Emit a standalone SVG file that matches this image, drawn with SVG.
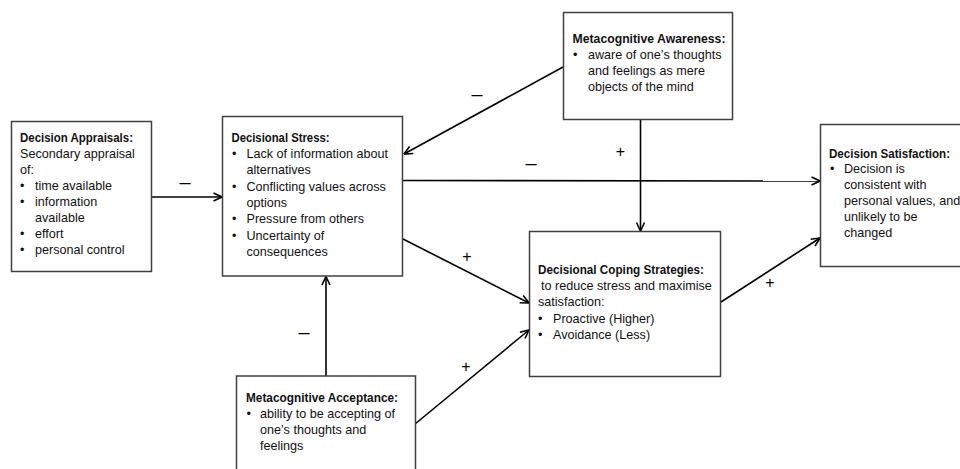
<svg xmlns="http://www.w3.org/2000/svg" width="960" height="469" viewBox="0 0 960 469">
<defs>
<marker id="arr" viewBox="0 0 10 10" refX="9.5" refY="5" markerWidth="10" markerHeight="10" markerUnits="userSpaceOnUse" orient="auto">
<path d="M1,1 L9.5,5 L1,9" fill="none" stroke="#000" stroke-width="1.6"/>
</marker>
</defs>
<style>
.box{fill:#fff;stroke:#404040;stroke-width:1.5}
text{font-family:"Liberation Sans",Arial,sans-serif;font-size:12.6px;fill:#111}
.t{font-weight:bold}
.lbl{font-size:16px;fill:#000}
.m{font-size:20px;fill:#000}
.c{stroke:#000;stroke-width:1.6;fill:none;marker-end:url(#arr)}
</style>
<rect width="960" height="469" fill="#fff"/>
<g id="connectors">
<line class="c" x1="152" y1="197" x2="222" y2="197"/>
<line class="c" x1="563" y1="67" x2="404" y2="154"/>
<line class="c" x1="403" y1="180.5" x2="820" y2="181"/>
<line class="c" x1="640.5" y1="120" x2="640.5" y2="231"/>
<line class="c" x1="403" y1="239" x2="529" y2="303"/>
<line class="c" x1="415" y1="424" x2="529" y2="330"/>
<line class="c" x1="326" y1="376" x2="326" y2="276.5"/>
<line class="c" x1="721" y1="302" x2="820" y2="238"/>
<text class="m" x="185" y="189" text-anchor="middle">–</text>
<text class="m" x="477" y="101" text-anchor="middle">–</text>
<text class="m" x="531" y="170" text-anchor="middle">–</text>
<text class="lbl" x="620.5" y="157" text-anchor="middle">+</text>
<text class="lbl" x="467" y="262" text-anchor="middle">+</text>
<text class="lbl" x="466" y="372" text-anchor="middle">+</text>
<text class="m" x="304" y="339" text-anchor="middle">–</text>
<text class="lbl" x="770" y="288" text-anchor="middle">+</text>
</g>
<g id="appraisals">
<rect class="box" x="11.5" y="121.5" width="140" height="150"/>
<text class="t" x="20" y="142" textLength="113" lengthAdjust="spacingAndGlyphs">Decision Appraisals:</text>
<text x="20" y="158">Secondary appraisal</text>
<text x="20" y="174">of:</text>
<text x="20" y="190">•</text><text x="35" y="190">time available</text>
<text x="20" y="206">•</text><text x="35" y="206">information</text>
<text x="35" y="222">available</text>
<text x="20" y="238">•</text><text x="35" y="238">effort</text>
<text x="20" y="254">•</text><text x="35" y="254">personal control</text>
</g>
<g id="stress">
<rect class="box" x="222.5" y="116.5" width="180" height="159.5"/>
<text class="t" x="231.5" y="142" textLength="98" lengthAdjust="spacingAndGlyphs">Decisional Stress:</text>
<text x="232" y="158">•</text><text x="246.5" y="158">Lack of information about</text>
<text x="246.5" y="174">alternatives</text>
<text x="232" y="190.5">•</text><text x="246.5" y="190.5">Conflicting values across</text>
<text x="246.5" y="207">options</text>
<text x="232" y="223">•</text><text x="246.5" y="223">Pressure from others</text>
<text x="232" y="240">•</text><text x="246.5" y="240">Uncertainty of</text>
<text x="246.5" y="256">consequences</text>
</g>
<g id="awareness">
<rect class="box" x="563.5" y="12.5" width="169" height="107"/>
<text class="t" x="572.5" y="43" textLength="153" lengthAdjust="spacingAndGlyphs">Metacognitive Awareness:</text>
<text x="573" y="59">•</text><text x="588" y="59">aware of one’s thoughts</text>
<text x="588" y="75">and feelings as mere</text>
<text x="588" y="91">objects of the mind</text>
</g>
<g id="coping">
<rect class="box" x="529.5" y="231.5" width="191" height="145"/>
<text class="t" x="538" y="274" textLength="166" lengthAdjust="spacingAndGlyphs">Decisional Coping Strategies:</text>
<text x="541" y="290">to reduce stress and maximise</text>
<text x="538" y="306">satisfaction:</text>
<text x="538" y="322.5">•</text><text x="553" y="322.5">Proactive (Higher)</text>
<text x="538" y="339">•</text><text x="553" y="339">Avoidance (Less)</text>
</g>
<g id="satisfaction">
<rect class="box" x="820.5" y="124.5" width="145" height="142"/>
<text class="t" x="829" y="157.5" textLength="121" lengthAdjust="spacingAndGlyphs">Decision Satisfaction:</text>
<text x="830" y="173">•</text><text x="844" y="173">Decision is</text>
<text x="844" y="189">consistent with</text>
<text x="844" y="205">personal values, and</text>
<text x="844" y="221">unlikely to be</text>
<text x="844" y="237">changed</text>
</g>
<g id="acceptance">
<rect class="box" x="236.5" y="376" width="179" height="100"/>
<text class="t" x="246" y="402" textLength="152" lengthAdjust="spacingAndGlyphs">Metacognitive Acceptance:</text>
<text x="246.5" y="418">•</text><text x="260" y="418">ability to be accepting of</text>
<text x="260" y="434">one’s thoughts and</text>
<text x="260" y="450">feelings</text>
</g>
</svg>
